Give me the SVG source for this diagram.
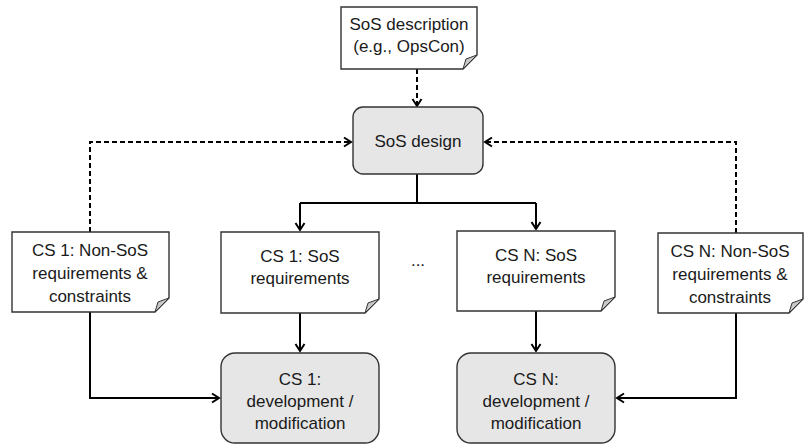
<svg xmlns="http://www.w3.org/2000/svg" width="805" height="445" viewBox="0 0 805 445">
<style>
.doc{fill:#fff;stroke:#333;stroke-width:1.4}
.fold{fill:#c8c8c8;stroke:#333;stroke-width:1}
.proc{fill:#e6e6e6;stroke:#333;stroke-width:1.4}
text{font-family:"Liberation Sans",Arial,sans-serif;font-size:17px;fill:#1a1a1a;text-anchor:middle}
.c{fill:none;stroke:#000;stroke-width:2}
.d{fill:none;stroke:#000;stroke-width:2;stroke-dasharray:5,3}
</style>
<defs>
<marker id="a" markerWidth="12" markerHeight="12" refX="10" refY="6" orient="auto" markerUnits="userSpaceOnUse">
<path d="M3,1.5 L10,6 L3,10.5" fill="none" stroke="#000" stroke-width="2"/>
</marker>
</defs>
<g id="connectors">
<path class="d" d="M417,69 V106" marker-end="url(#a)"/>
<path class="d" d="M90,232 V142 H351" marker-end="url(#a)"/>
<path class="d" d="M736,233 V142 H485" marker-end="url(#a)"/>
<path class="c" d="M417,174 V203"/>
<path class="c" d="M300,203 H536"/>
<path class="c" d="M300,203 V230" marker-end="url(#a)"/>
<path class="c" d="M536,203 V229" marker-end="url(#a)"/>
<path class="c" d="M300,313 V351" marker-end="url(#a)"/>
<path class="c" d="M536,311 V351" marker-end="url(#a)"/>
<path class="c" d="M90,312 V398 H219" marker-end="url(#a)"/>
<path class="c" d="M736,313 V398 H617" marker-end="url(#a)"/>
</g>
<g id="sos-description">
<path class="doc" d="M341,7 H477 V55 L463,69 H341 Z"/>
<path class="fold" d="M463,69 L466,59 L477,55 Z"/>
<text x="409" y="30">SoS description</text>
<text x="409" y="52">(e.g., OpsCon)</text>
</g>
<g id="sos-design">
<rect class="proc" x="353" y="107" width="130" height="67" rx="10"/>
<text x="418" y="147">SoS design</text>
</g>
<g id="cs1-nonsos">
<path class="doc" d="M12,232 H169 V298 L155,312 H12 Z"/>
<path class="fold" d="M155,312 L158,302 L169,298 Z"/>
<text x="90" y="256">CS 1: Non-SoS</text>
<text x="90" y="279">requirements &amp;</text>
<text x="90" y="302">constraints</text>
</g>
<g id="cs1-sos">
<path class="doc" d="M221,232 H379 V299 L365,313 H221 Z"/>
<path class="fold" d="M365,313 L368,303 L379,299 Z"/>
<text x="300" y="262">CS 1: SoS</text>
<text x="300" y="284">requirements</text>
</g>
<g id="ellipsis">
<text x="418" y="266">...</text>
</g>
<g id="csn-sos">
<path class="doc" d="M457,231 H615 V297 L601,311 H457 Z"/>
<path class="fold" d="M601,311 L604,301 L615,297 Z"/>
<text x="536" y="261">CS N: SoS</text>
<text x="536" y="283">requirements</text>
</g>
<g id="csn-nonsos">
<path class="doc" d="M658,233 H803 V299 L789,313 H658 Z"/>
<path class="fold" d="M789,313 L792,303 L803,299 Z"/>
<text x="730" y="257">CS N: Non-SoS</text>
<text x="730" y="280">requirements &amp;</text>
<text x="730" y="303">constraints</text>
</g>
<g id="cs1-dev">
<rect class="proc" x="221" y="353" width="158" height="90" rx="14"/>
<text x="300" y="385">CS 1:</text>
<text x="300" y="407">development /</text>
<text x="300" y="429">modification</text>
</g>
<g id="csn-dev">
<rect class="proc" x="457" y="353" width="158" height="90" rx="14"/>
<text x="536" y="385">CS N:</text>
<text x="536" y="407">development /</text>
<text x="536" y="429">modification</text>
</g>
</svg>
